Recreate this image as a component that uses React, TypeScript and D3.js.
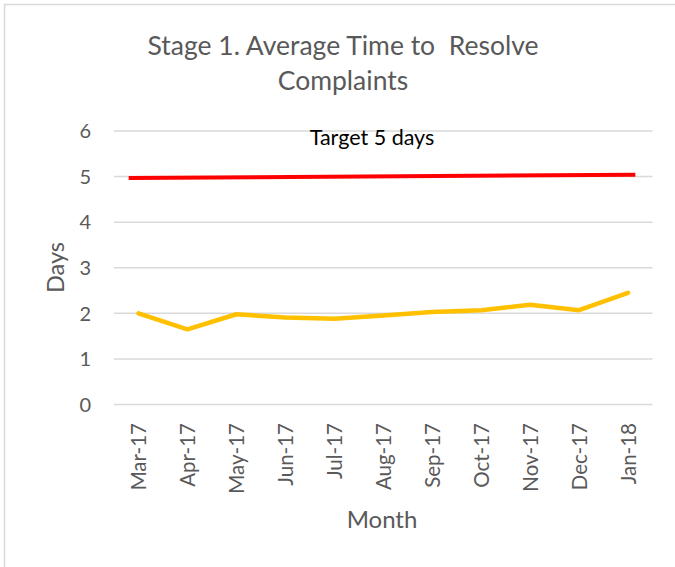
import React from "react";
import * as d3 from "d3";

const months = ["Mar-17", "Apr-17", "May-17", "Jun-17", "Jul-17", "Aug-17", "Sep-17", "Oct-17", "Nov-17", "Dec-17", "Jan-18"];
const avgDays = [2.0, 1.65, 1.98, 1.91, 1.88, 1.95, 2.03, 2.07, 2.19, 2.07, 2.45];
const yTicks = [0, 1, 2, 3, 4, 5, 6];
const targetPos = [-0.2, 10.15];
const targetVals = [4.97, 5.04];
const titleLines = ["Stage 1. Average Time to  Resolve", "Complaints"];
const targetLabel = "Target 5 days";

const W = 675;
const H = 567;
const FONT = "Lato, 'Open Sans', sans-serif";
const TXT = "#595959";

export default function App() {
  const x = d3.scaleBand<string>().domain(months).range([114, 652.5]);
  const xi = d3.scaleLinear().domain([-0.5, months.length - 0.5]).range([114, 652.5]);
  const y = d3.scaleLinear().domain([0, 6]).range([404.5, 131]);
  const cx = (m: string) => (x(m) as number) + x.bandwidth() / 2;

  const line = d3
    .line<number>()
    .x((_, i) => cx(months[i]))
    .y((d) => y(d));

  const tline = d3
    .line<number>()
    .x((_, i) => xi(targetPos[i]))
    .y((d) => y(d));

  return (
    <svg
      width={W}
      height={H}
      style={{ position: "absolute", left: 0, top: 0, display: "block", background: "#fff" }}
      fontFamily={FONT}
    >
      <rect x={4.5} y={4.5} width={W + 20} height={H + 20} fill="#fff" stroke="#d9d9d9" strokeWidth={1.5} />
      {titleLines.map((t, i) => (
        <text
          key={t}
          x={343}
          y={55 + i * 35}
          textAnchor="middle"
          fontSize={26.5}
          fill={TXT}
          style={{ whiteSpace: "pre" }}
        >
          {t}
        </text>
      ))}
      {yTicks.map((t) => (
        <g key={t}>
          <line x1={114} x2={652.5} y1={y(t)} y2={y(t)} stroke="#d9d9d9" strokeWidth={1.5} />
          <text x={91} y={y(t)} dy="0.36em" textAnchor="end" fontSize={20} fill={TXT}>
            {t}
          </text>
        </g>
      ))}
      {months.map((m) => (
        <text
          key={m}
          transform={`translate(${cx(m) + 7.5},423) rotate(-90)`}
          textAnchor="end"
          fontSize={20.5}
          fill={TXT}
        >
          {m}
        </text>
      ))}
      <text transform="translate(64,267.5) rotate(-90)" textAnchor="middle" fontSize={23.5} fill={TXT}>
        Days
      </text>
      <text x={382} y={528} textAnchor="middle" fontSize={24} fill={TXT}>
        Month
      </text>
      <path d={tline(targetVals) || ""} fill="none" stroke="#ff0000" strokeWidth={4} />
      <text x={372} y={145} textAnchor="middle" fontSize={21.5} fill="#000">
        {targetLabel}
      </text>
      <path
        d={line(avgDays) || ""}
        fill="none"
        stroke="#ffc000"
        strokeWidth={4.5}
        strokeLinejoin="round"
        strokeLinecap="round"
      />
    </svg>
  );
}
